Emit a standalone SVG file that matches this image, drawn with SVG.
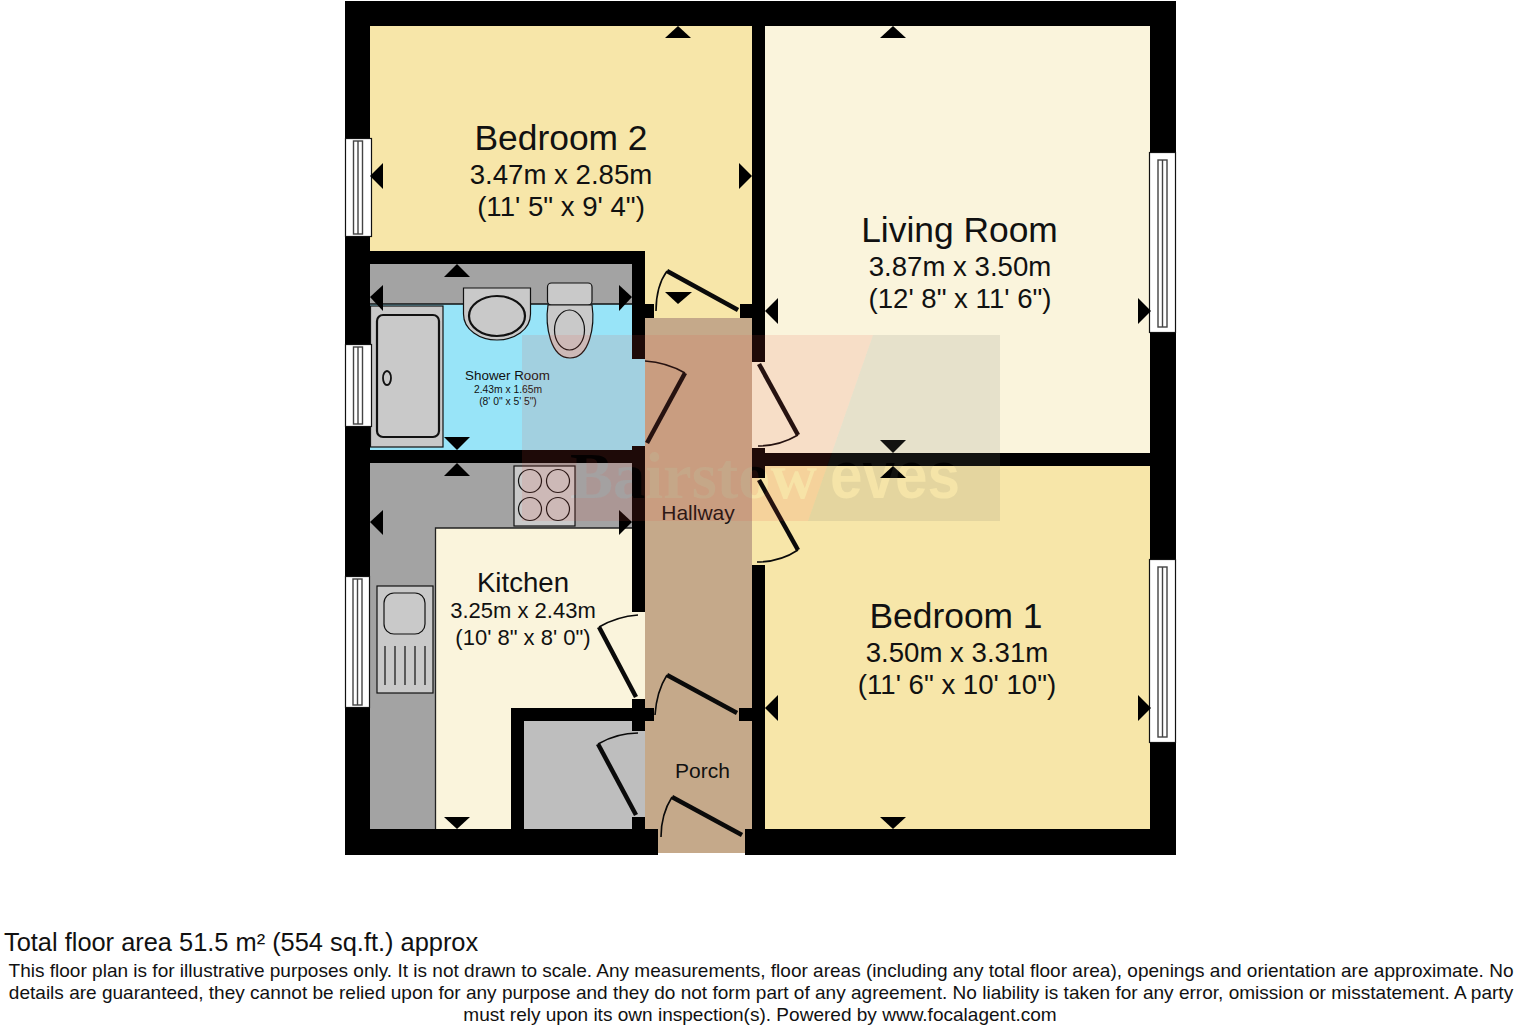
<svg xmlns="http://www.w3.org/2000/svg" width="1520" height="1032" viewBox="0 0 1520 1032">
<style>
text{font-family:"Liberation Sans",Arial,sans-serif;fill:#111;text-anchor:middle}
.w{fill:#000}
.cream{fill:#FAF4DC}.yellow{fill:#F7E6A9}.hall{fill:#C5A98A}.grey{fill:#A3A3A3}.lg{fill:#BEBEBE}.blue{fill:#98E4F8}
.fx{fill:#C9C9C9;stroke:#111;stroke-width:1.2}
.fx2{fill:#C9C9C9;stroke:#111;stroke-width:2.2}
.win{fill:#fff;stroke:#111;stroke-width:1.2}
.win2{fill:#fff;stroke:#444;stroke-width:1.4}
.door{fill:none;stroke:#0a0a0a;stroke-width:4.500}
.arc{fill:none;stroke:#0a0a0a;stroke-width:1.6}
.n{font-size:35.400px}.d{font-size:27.600px}.k{font-size:27.600px}.kd{font-size:22px}.s{font-size:21px}
.f{font-size:19.050px}
</style>
<defs>
<mask id="wm" maskUnits="userSpaceOnUse" x="522" y="335" width="478" height="186">
<rect x="522" y="335" width="478" height="186" fill="#fff"/>
<text x="693.500" y="498" font-size="66" font-weight="bold" style="font-family:'Liberation Serif',serif;fill:#222" textLength="247" lengthAdjust="spacingAndGlyphs">Bairstow</text>
<text x="895" y="498" font-size="66" font-weight="bold" style="fill:#111" textLength="130" lengthAdjust="spacingAndGlyphs">eves</text>
</mask>
</defs>
<rect width="1520" height="1032" fill="#fff"/>
<g id="bedroom-2"><rect class="yellow" x="370" y="26" width="382" height="292"/></g>
<g id="living-room"><rect class="cream" x="765" y="26" width="385" height="427"/><rect class="cream" x="752" y="362" width="13" height="86"/></g>
<g id="bedroom-1"><rect class="yellow" x="765" y="466" width="385" height="363"/><rect class="yellow" x="752" y="478" width="13" height="87"/></g>
<g id="hallway"><rect class="hall" x="645" y="318" width="107" height="390"/></g>
<g id="porch"><rect class="hall" x="645" y="708" width="107" height="121"/><rect class="hall" x="658" y="829" width="87" height="24"/></g>
<g id="shower-room">
<rect class="blue" x="370" y="264" width="275" height="186"/>
<rect class="grey" x="370" y="264" width="262" height="40"/>
<path d="M370 304H632" stroke="#111" stroke-width="1.500"/>
<rect class="fx" x="370.500" y="306" width="72.500" height="141"/>
<rect class="fx2" x="377" y="315" width="62" height="122" rx="6"/>
<ellipse cx="387" cy="378" rx="4" ry="7" fill="none" stroke="#111" stroke-width="1.800"/>
<path class="fx" d="M463.500 288H530.500V314C530.500 330 514 340 497 340C480 340 463.500 330 463.500 314Z"/>
<ellipse class="fx2" cx="497" cy="316" rx="28" ry="20"/>
<rect class="fx" x="547.500" y="283" width="44.500" height="22" rx="4"/>
<path class="fx" d="M548 305C545 325 550 358 570 358C590 358 595 325 592 305Z"/>
<ellipse class="fx" cx="569.500" cy="330" rx="15" ry="20"/>
</g>
<g id="kitchen">
<rect class="cream" x="370" y="463" width="275" height="366"/>
<rect class="grey" x="370" y="463" width="262" height="65"/>
<rect class="grey" x="370" y="528" width="65" height="301"/>
<path d="M435.500 829V528H632" fill="none" stroke="#222" stroke-width="1.300"/>
<rect class="fx" x="514" y="466" width="61" height="60"/>
<circle class="fx" cx="530" cy="481" r="11.500"/><circle class="fx" cx="558" cy="481" r="11.500"/>
<circle class="fx" cx="530" cy="509" r="11.500"/><circle class="fx" cx="558" cy="509" r="11.500"/>
<rect class="fx" x="377" y="586" width="56" height="107"/>
<rect class="fx" x="384" y="593" width="41" height="41" rx="10"/>
<path d="M385 646V685M395 646V685M405 646V685M415 646V685M425 646V685" stroke="#111" stroke-width="1.200"/>
</g>
<g id="cupboard"><rect class="lg" x="524" y="721" width="121" height="108"/></g>
<g id="walls" class="w">
<rect x="345" y="1" width="831" height="25"/>
<rect x="345" y="1" width="25" height="854"/>
<rect x="1150" y="1" width="26" height="854"/>
<rect x="345" y="829" width="313" height="26"/>
<rect x="745" y="829" width="431" height="26"/>
<rect x="632" y="251" width="13" height="108"/>
<rect x="632" y="446" width="13" height="166"/>
<rect x="632" y="699" width="13" height="32"/>
<rect x="632" y="817" width="13" height="12"/>
<rect x="752" y="26" width="13" height="336"/>
<rect x="752" y="448" width="13" height="30"/>
<rect x="752" y="565" width="13" height="264"/>
<rect x="370" y="251" width="275" height="13"/>
<rect x="370" y="450" width="275" height="13"/>
<rect x="752" y="453" width="398" height="13"/>
<rect x="511" y="708" width="143" height="13"/>
<rect x="511" y="708" width="13" height="121"/>
<rect x="645" y="304" width="9" height="14"/>
<rect x="740" y="304" width="12" height="14"/>
<rect x="739" y="708" width="13" height="13"/>
</g>
<g id="windows">
<rect class="win" x="345.500" y="138.500" width="26" height="98"/><rect class="win2" x="353.500" y="141" width="9" height="93"/><path class="win2" d="M358 141V234"/>
<rect class="win" x="345.500" y="344.500" width="26" height="82"/><rect class="win2" x="353.500" y="347" width="9" height="77"/><path class="win2" d="M358 347V424"/>
<rect class="win" x="345.500" y="576.500" width="24" height="131"/><rect class="win2" x="353" y="579" width="9" height="126"/><path class="win2" d="M357.500 579V705"/>
<rect class="win" x="1149.500" y="152.500" width="26" height="180"/><rect class="win2" x="1158" y="160" width="9" height="167"/><path class="win2" d="M1162.500 160V327"/>
<rect class="win" x="1149.500" y="559.500" width="26" height="183"/><rect class="win2" x="1158" y="567" width="9" height="170"/><path class="win2" d="M1162.500 567V737"/>
</g>
<g id="doors">
<path class="door" d="M738 310L667 271"/><path class="arc" d="M667 271C659 282 656 296 656 311"/>
<path class="door" d="M647 443L685 373"/><path class="arc" d="M685 373C673 366 660 362 645 361"/>
<path class="door" d="M759 364L798 435"/><path class="arc" d="M798 435C786 442 772 446 758 446"/>
<path class="door" d="M759 480L798 550"/><path class="arc" d="M798 550C786 558 772 562 757 562"/>
<path class="door" d="M636 697L599 627"/><path class="arc" d="M599 627C611 620 624 616 638 615"/>
<path class="door" d="M636 815L598 744"/><path class="arc" d="M598 744C610 737 624 733 638 733"/>
<path class="door" d="M737 713L667 675"/><path class="arc" d="M667 675C660 686 656 700 655 715"/>
<path class="door" d="M742 835L672 797"/><path class="arc" d="M672 797C665 808 661 822 661 837"/>
</g>
<g id="marks" fill="#000">
<path d="M678 26L691 38H665Z"/><path d="M370 176L383 163V189Z"/><path d="M752 176L739 163V189Z"/><path d="M678 304L665 292H692Z"/>
<path d="M893 26L906 38H880Z"/><path d="M765 311L778 298V324Z"/><path d="M1151 311L1138 298V324Z"/><path d="M893 453L880 440H906Z"/>
<path d="M893 466L906 478H880Z"/><path d="M765 708L778 695V721Z"/><path d="M1151 708L1138 695V721Z"/><path d="M893 829L880 817H906Z"/>
<path d="M457 264L470 277H444Z"/><path d="M370 297L383 285V311Z"/><path d="M632 297L619 285V311Z"/><path d="M457 450L444 437H470Z"/>
<path d="M457 463L470 476H444Z"/><path d="M370 522L383 510V535Z"/><path d="M632 522L619 510V535Z"/><path d="M457 829L444 817H470Z"/>
</g>
<g id="labels">
<text class="n" x="561" y="150">Bedroom 2</text><text class="d" x="561" y="184">3.47m x 2.85m</text><text class="d" x="561" y="216">(11' 5" x 9' 4")</text>
<text class="n" x="959.500" y="242">Living Room</text><text class="d" x="960" y="276">3.87m x 3.50m</text><text class="d" x="960" y="308">(12' 8" x 11' 6")</text>
<text class="n" x="956" y="628">Bedroom 1</text><text class="d" x="957" y="662">3.50m x 3.31m</text><text class="d" x="957" y="694">(11' 6" x 10' 10")</text>
<text x="507.500" y="380" font-size="13.400">Shower Room</text><text x="508" y="393" font-size="10.300">2.43m x 1.65m</text><text x="508" y="405" font-size="10.300">(8' 0" x 5' 5")</text>
<text class="k" x="523" y="592">Kitchen</text><text class="kd" x="523" y="618">3.25m x 2.43m</text><text class="kd" x="523" y="645">(10' 8" x 8' 0")</text>
<text class="s" x="698" y="520">Hallway</text><text class="s" x="702.500" y="778">Porch</text>
</g>
<g id="watermark" mask="url(#wm)">
<path d="M522 335H873L808 521H522Z" fill="#E8503A" opacity=".13"/>
<path d="M873 335H1000V521H808Z" fill="#7A7A6A" opacity=".15"/>
</g>
<g id="footer">
<text x="4" y="951" font-size="25.400" style="text-anchor:start">Total floor area 51.5 m² (554 sq.ft.) approx</text>
<text class="f" x="761" y="977">This floor plan is for illustrative purposes only. It is not drawn to scale. Any measurements, floor areas (including any total floor area), openings and orientation are approximate. No</text>
<text class="f" x="761" y="999">details are guaranteed, they cannot be relied upon for any purpose and they do not form part of any agreement. No liability is taken for any error, omission or misstatement. A party</text>
<text class="f" x="760" y="1021">must rely upon its own inspection(s). Powered by www.focalagent.com</text>
</g>
</svg>
